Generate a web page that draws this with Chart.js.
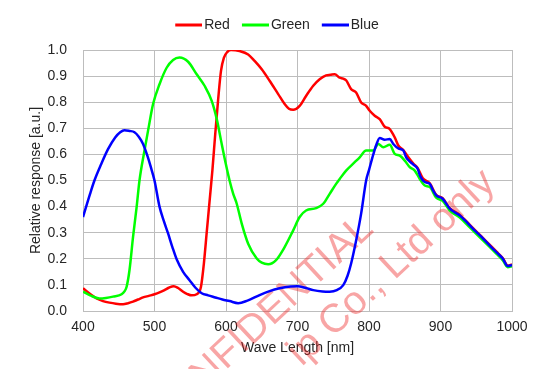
<!DOCTYPE html>
<html>
<head>
<meta charset="utf-8">
<script src="https://cdn.jsdelivr.net/npm/chart.js@4/dist/chart.umd.min.js"></script>
<style>
  html, body { margin: 0; padding: 0; background: #fff; }
  #wrap { width: 554px; height: 369px; position: relative; }
</style>
</head>
<body>
<div id="wrap"><canvas id="chart"></canvas></div>
<script>
// ---- data (wavelength nm / relative response) ----
var redNm  = [400,410,419,428,437,446,456,463,470,477,484,492,500,507,514,520,527,533,540,546,552,559,565,569,573,577,581,585,589,593,597,602,607,619,631,640,650,661,673,682,688,694,703,712,722,731,740,746,752,759,764,768,775,782,789,796,801,808,815,822,829,836,841,848,855,862,868,875,885,894,903,913,927,941,950,964,978,987,994,1000];
var redVal = [0.087,0.065,0.048,0.038,0.032,0.028,0.026,0.030,0.036,0.044,0.052,0.058,0.064,0.071,0.080,0.089,0.095,0.088,0.074,0.065,0.060,0.064,0.093,0.180,0.300,0.420,0.540,0.680,0.810,0.920,0.970,0.993,1.000,0.996,0.983,0.958,0.926,0.882,0.831,0.793,0.775,0.771,0.786,0.824,0.863,0.888,0.903,0.905,0.907,0.894,0.890,0.884,0.850,0.837,0.799,0.786,0.767,0.748,0.735,0.706,0.697,0.665,0.634,0.617,0.589,0.565,0.548,0.510,0.489,0.445,0.432,0.394,0.368,0.330,0.305,0.267,0.228,0.203,0.174,0.178];

var greenNm  = [400,410,423,432,442,454,458,461,465,470,475,479,486,491,498,507,517,526,535,547,559,570,580,587,594,600,605,610,615,622,631,643,650,659,670,682,694,703,712,726,736,745,754,759,768,780,787,796,806,813,820,829,836,843,850,857,864,871,878,885,894,903,913,927,941,950,964,978,987,994,1000];
var greenVal = [0.074,0.060,0.048,0.050,0.055,0.064,0.075,0.093,0.156,0.284,0.398,0.500,0.615,0.691,0.793,0.869,0.932,0.962,0.971,0.955,0.907,0.863,0.805,0.736,0.640,0.560,0.500,0.450,0.411,0.335,0.258,0.201,0.185,0.179,0.195,0.245,0.309,0.360,0.385,0.394,0.411,0.449,0.487,0.506,0.538,0.570,0.589,0.615,0.615,0.640,0.627,0.637,0.602,0.595,0.576,0.551,0.538,0.506,0.481,0.475,0.434,0.422,0.385,0.358,0.320,0.296,0.258,0.220,0.195,0.168,0.172];

var blueNm  = [400,410,416,425,435,445,452,458,465,472,478,484,490,495,500,507,513,519,525,531,540,549,557,566,575,585,595,605,617,630,647,660,675,690,700,712,722,735,745,755,764,770,775,782,789,796,800,806,810,815,822,829,834,841,848,852,858,862,868,872,878,885,890,894,903,913,920,927,935,941,950,957,964,971,978,987,994,1000];
var blueVal = [0.360,0.450,0.500,0.560,0.620,0.665,0.685,0.693,0.690,0.685,0.668,0.640,0.595,0.550,0.500,0.400,0.345,0.297,0.245,0.198,0.150,0.118,0.090,0.068,0.060,0.052,0.044,0.038,0.030,0.040,0.061,0.075,0.087,0.094,0.095,0.088,0.080,0.075,0.074,0.080,0.099,0.135,0.182,0.270,0.373,0.500,0.540,0.600,0.635,0.663,0.656,0.659,0.640,0.623,0.615,0.589,0.570,0.561,0.545,0.515,0.494,0.487,0.460,0.443,0.430,0.392,0.378,0.366,0.345,0.328,0.303,0.285,0.265,0.245,0.226,0.201,0.172,0.176];

var xTicks = [400, 500, 600, 700, 800, 900, 1000];
var yTicks = [0.0, 0.1, 0.2, 0.3, 0.4, 0.5, 0.6, 0.7, 0.8, 0.9, 1.0];

function pts(xs, ys) {
  return xs.map(function(x, i) { return { x: x, y: ys[i] }; });
}

// legend swatch: a short thick line sitting close to the label text
function swatch(color) {
  var c = document.createElement('canvas');
  c.width = 32; c.height = 6;
  var g = c.getContext('2d');
  g.strokeStyle = color;
  g.lineWidth = 3;
  g.beginPath(); g.moveTo(5, 3); g.lineTo(32, 3); g.stroke();
  return c;
}

var FONT = '"Liberation Sans", Arial, sans-serif';
var TEXT = '#262626';
var GRID = '#bdbdbd';

// extra space under the legend
var legendGap = {
  id: 'legendGap',
  afterInit: function(chart) {
    var l = chart.legend;
    if (!l) return;
    var f = l.fit;
    l.fit = function() { f.call(this); this.height += 8; };
  }
};

// watermark drawn behind the curves
var watermark = {
  id: 'watermark',
  beforeDatasetsDraw: function(chart) {
    var ctx = chart.ctx;
    var a = -43 * Math.PI / 180;
    ctx.save();
    ctx.font = '40px ' + FONT;
    ctx.fillStyle = 'rgba(238, 30, 30, 0.4)';
    ctx.textAlign = 'right';
    ctx.textBaseline = 'alphabetic';
    ctx.translate(375, 231);
    ctx.rotate(a);
    ctx.fillText('CONFIDENTIAL', 0, 0);
    ctx.restore();
    ctx.save();
    ctx.font = '40px ' + FONT;
    ctx.fillStyle = 'rgba(238, 30, 30, 0.4)';
    ctx.textAlign = 'right';
    ctx.textBaseline = 'alphabetic';
    ctx.translate(497, 185);
    ctx.rotate(a);
    ctx.fillText('ip Co., Ltd only', 0, 0);
    ctx.restore();
  }
};

new Chart(document.getElementById('chart'), {
  type: 'line',
  data: {
    datasets: [
      { label: 'Blue',  data: pts(blueNm, blueVal),   borderColor: '#0000ff', backgroundColor: '#0000ff', pointStyle: swatch('#0000ff') },
      { label: 'Green', data: pts(greenNm, greenVal), borderColor: '#00ff00', backgroundColor: '#00ff00', pointStyle: swatch('#00ff00') },
      { label: 'Red',   data: pts(redNm, redVal),     borderColor: '#ff0000', backgroundColor: '#ff0000', pointStyle: swatch('#ff0000') }
    ]
  },
  options: {
    responsive: true,
    maintainAspectRatio: false,
    animation: false,
    datasets: {
      line: {
        borderWidth: 2.5,
        pointRadius: 0,
        fill: false,
        cubicInterpolationMode: 'monotone'
      }
    },
    layout: { padding: { top: 6, right: 0, left: 0, bottom: 0 } },
    plugins: {
      tooltip: { enabled: false },
      legend: {
        position: 'top',
        reverse: true,
        labels: {
          usePointStyle: true,
          pointStyleWidth: 22,
          padding: 12,
          color: TEXT,
          font: { family: FONT, size: 14 }
        }
      }
    },
    scales: {
      x: {
        type: 'linear',
        min: 400,
        max: 1000,
        afterBuildTicks: function(s) { s.ticks = xTicks.map(function(v) { return { value: v }; }); },
        afterFit: function(s) { s.height = 58; },
        grid: { color: GRID, drawTicks: false },
        border: { color: GRID },
        ticks: {
          color: TEXT,
          padding: 8,
          font: { family: FONT, size: 14 },
          callback: function(v) { return String(v); }
        },
        title: { display: true, text: 'Wave Length [nm]', color: TEXT, padding: { top: 0, bottom: 12 }, font: { family: FONT, size: 14 } }
      },
      y: {
        min: 0,
        max: 1,
        afterBuildTicks: function(s) { s.ticks = yTicks.map(function(v) { return { value: v }; }); },
        afterFit: function(s) { s.width = 83; },
        grid: { color: GRID, drawTicks: false },
        border: { color: GRID },
        ticks: {
          color: TEXT,
          padding: 16,
          font: { family: FONT, size: 14 },
          callback: function(v) { return v.toFixed(1); }
        },
        title: { display: true, text: 'Relative response [a.u.]', color: TEXT, padding: { top: 28, bottom: 0 }, font: { family: FONT, size: 14 } }
      },
      // empty right-hand axis that only reserves the margin right of the plot
      yRight: {
        position: 'right',
        min: 0,
        max: 1,
        afterFit: function(s) { s.width = 42; },
        grid: { display: false, drawTicks: false },
        border: { display: false },
        ticks: { display: false }
      }
    }
  },
  plugins: [legendGap, watermark]
});
</script>
</body>
</html>
